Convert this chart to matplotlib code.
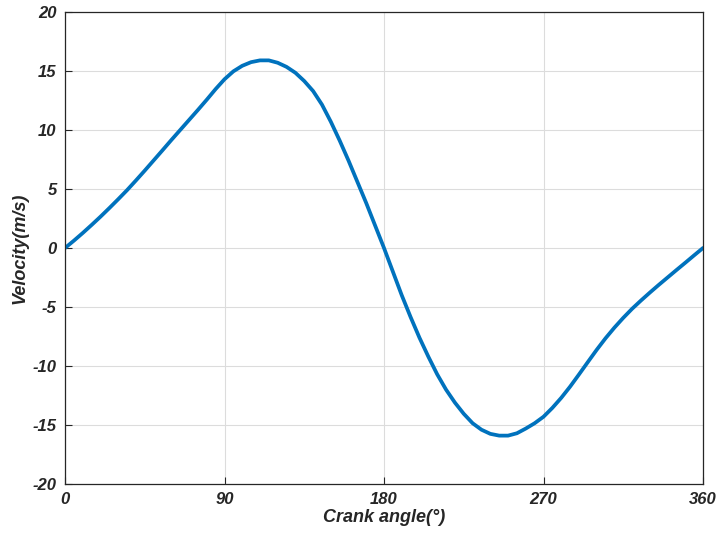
import numpy as np
import matplotlib.pyplot as plt

plt.rcParams['font.family'] = ['Liberation Sans', 'DejaVu Sans']
plt.rcParams['axes.unicode_minus'] = False

# crank angle (deg) and slider velocity (m/s)
angle = list(range(0, 361, 5))
velocity = [0.0, 0.62, 1.27, 1.95, 2.65, 3.38, 4.13, 4.9, 5.72, 6.56,
            7.42, 8.28, 9.15, 10.0, 10.85, 11.7, 12.57, 13.47, 14.3, 14.97,
            15.44, 15.75, 15.9, 15.9, 15.7, 15.35, 14.85, 14.15, 13.3, 12.15,
            10.7, 9.1, 7.4, 5.6, 3.8, 1.9, 0.0,
            -2.0, -4.0, -5.85, -7.6, -9.2, -10.7, -12.0, -13.1, -14.05, -14.85,
            -15.4, -15.75, -15.9, -15.9, -15.7, -15.3, -14.85, -14.3, -13.55, -12.7,
            -11.75, -10.72, -9.67, -8.63, -7.65, -6.75, -5.92, -5.15, -4.45, -3.78,
            -3.13, -2.5, -1.87, -1.25, -0.62, 0.0]

xticks = [0, 90, 180, 270, 360]
yticks = [-20, -15, -10, -5, 0, 5, 10, 15, 20]

fig = plt.figure(figsize=(7.18, 5.37), dpi=100)
ax = fig.add_axes([65 / 718, 53 / 537, 638 / 718, 472 / 537])

ax.plot(angle, velocity, color='#0072BD', lw=2.7, solid_capstyle='round', solid_joinstyle='round')

ax.set_xlim(0, 360)
ax.set_ylim(-20, 20)
ax.set_xticks(xticks)
ax.set_yticks(yticks)
ax.grid(True, color='#dcdcdc', lw=0.8)
ax.set_axisbelow(True)
ax.tick_params(direction='in', length=5, width=0.8, color='#262626', labelsize=12, pad=6)
for lab in ax.get_xticklabels() + ax.get_yticklabels():
    lab.set_fontweight('bold')
    lab.set_fontstyle('italic')
    lab.set_color('#262626')
for s in ax.spines.values():
    s.set_color('#262626')
    s.set_linewidth(0.9)

ax.set_xlabel('Crank angle(°)', fontsize=13, fontweight='bold', fontstyle='italic', color='#262626', labelpad=1)
ax.set_ylabel('Velocity(m/s)', fontsize=13, fontweight='bold', fontstyle='italic', color='#262626', labelpad=3)

fig.savefig('out.png', dpi=100)
